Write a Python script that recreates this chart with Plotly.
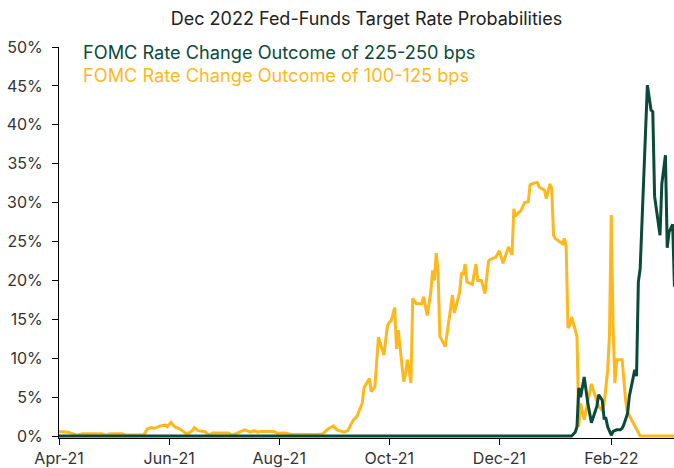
import plotly.graph_objects as go

# ---- data ----
orange_dates = [
    "2021-04-01", "2021-04-06", "2021-04-11", "2021-04-14", "2021-04-25", "2021-04-27", "2021-04-29",
    "2021-05-06", "2021-05-08", "2021-05-18", "2021-05-20", "2021-05-22", "2021-05-24", "2021-05-27",
    "2021-05-30", "2021-05-31", "2021-06-02", "2021-06-04", "2021-06-07", "2021-06-11", "2021-06-14",
    "2021-06-15", "2021-06-17", "2021-06-21", "2021-06-23", "2021-06-25", "2021-07-04", "2021-07-06",
    "2021-07-09", "2021-07-13", "2021-07-16", "2021-07-18", "2021-07-20", "2021-07-22", "2021-07-29",
    "2021-07-31", "2021-08-04", "2021-08-08", "2021-08-22", "2021-08-25", "2021-08-28", "2021-08-31",
    "2021-09-02", "2021-09-05", "2021-09-06", "2021-09-08", "2021-09-09", "2021-09-11", "2021-09-13",
    "2021-09-14", "2021-09-16", "2021-09-17", "2021-09-20", "2021-09-21", "2021-09-23", "2021-09-25",
    "2021-09-28", "2021-09-30", "2021-10-01", "2021-10-02", "2021-10-04", "2021-10-05", "2021-10-06",
    "2021-10-07", "2021-10-09", "2021-10-10", "2021-10-11", "2021-10-13", "2021-10-14", "2021-10-16",
    "2021-10-19", "2021-10-20", "2021-10-22", "2021-10-24", "2021-10-25", "2021-10-26", "2021-10-27",
    "2021-10-28", "2021-10-29", "2021-11-01", "2021-11-03", "2021-11-05", "2021-11-06", "2021-11-09",
    "2021-11-10", "2021-11-11", "2021-11-12", "2021-11-13", "2021-11-16", "2021-11-18", "2021-11-19",
    "2021-11-21", "2021-11-23", "2021-11-24", "2021-11-25", "2021-11-26", "2021-11-29", "2021-12-01",
    "2021-12-03", "2021-12-06", "2021-12-08", "2021-12-09", "2021-12-10", "2021-12-13", "2021-12-15",
    "2021-12-17", "2021-12-18", "2021-12-20", "2021-12-22", "2021-12-23", "2021-12-26", "2021-12-27",
    "2021-12-29", "2021-12-30", "2021-12-31", "2022-01-01", "2022-01-04", "2022-01-05", "2022-01-06",
    "2022-01-07", "2022-01-08", "2022-01-09", "2022-01-10", "2022-01-12", "2022-01-13", "2022-01-14",
    "2022-01-15", "2022-01-17", "2022-01-21", "2022-01-25", "2022-01-27", "2022-01-28", "2022-01-30",
    "2022-01-31", "2022-02-01", "2022-02-02", "2022-02-03", "2022-02-04", "2022-02-07", "2022-02-09",
    "2022-02-10", "2022-02-12", "2022-02-14", "2022-02-17", "2022-03-08",
]
orange_values = [
    0.6, 0.5, 0.1, 0.3, 0.3, 0.1, 0.3,
    0.3, 0.15, 0.15, 0.9, 1.1, 1.0, 1.3,
    1.4, 1.2, 1.75, 1.2, 0.9, 0.25, 0.7,
    1.1, 0.7, 0.55, 0.1, 0.4, 0.4, 0.1,
    0.4, 0.8, 0.5, 0.7, 0.5, 0.6, 0.6,
    0.35, 0.4, 0.2, 0.2, 0.25, 0.9, 1.3,
    0.8, 0.6, 0.5, 0.7, 1.2, 2.05, 2.5,
    3.0, 4.2, 6.2, 7.4, 5.7, 6.3, 12.7,
    10.4, 14.2, 14.6, 14.8, 16.5, 11.2, 13.6,
    11.3, 7.0, 8.0, 9.8, 6.8, 17.7, 17.0,
    17.0, 17.9, 15.5, 18.5, 21.3, 20.0, 23.5,
    21.3, 12.8, 11.5, 14.9, 18.1, 15.8, 18.5,
    21.0, 20.7, 22.1, 19.8, 19.5, 22.1, 20.0,
    20.0, 18.3, 20.6, 22.5, 22.7, 23.0, 23.8,
    22.2, 24.3, 23.3, 29.2, 28.3, 29.0, 30.0,
    30.1, 32.3, 32.5, 32.6, 32.0, 31.6, 30.5,
    32.4, 31.8, 25.8, 25.4, 24.8, 24.7, 25.4,
    24.3, 13.9, 14.2, 15.3, 13.5, 12.8, 1.2,
    4.2, 2.1, 6.7, 3.8, 3.3, 4.0, 8.5,
    13.0, 28.4, 14.0, 6.8, 9.8, 9.8, 4.5,
    3.1, 2.2, 1.3, 0.0, 0.0,
]

green_dates = [
    "2021-04-01", "2022-01-10", "2022-01-12", "2022-01-13", "2022-01-14", "2022-01-15", "2022-01-17",
    "2022-01-19", "2022-01-21", "2022-01-24", "2022-01-25", "2022-01-27", "2022-01-28", "2022-01-29",
    "2022-01-30", "2022-02-01", "2022-02-02", "2022-02-04", "2022-02-06", "2022-02-07", "2022-02-08",
    "2022-02-10", "2022-02-11", "2022-02-13", "2022-02-14", "2022-02-15", "2022-02-16", "2022-02-17",
    "2022-02-21", "2022-02-23", "2022-02-24", "2022-02-25", "2022-02-28", "2022-03-01", "2022-03-03",
    "2022-03-04", "2022-03-05", "2022-03-07", "2022-03-08",
]
green_values = [
    0.0, 0.0, 0.5, 1.2, 6.2, 5.0, 7.6,
    4.2, 1.7, 3.8, 5.3, 4.6, 2.3, 2.3,
    1.2, 0.1, 0.6, 0.8, 0.8, 1.0, 1.5,
    2.9, 5.1, 7.2, 8.5, 7.7, 19.8, 21.5,
    45.1, 41.9, 41.7, 30.8, 25.8, 32.4, 36.1,
    24.2, 26.2, 27.2, 19.2,
]

series_names = [
    "FOMC Rate Change Outcome of 225-250 bps",
    "FOMC Rate Change Outcome of 100-125 bps",
]
title_text = "Dec 2022 Fed-Funds Target Rate Probabilities"

GREEN = "#0a4a39"
ORANGE = "#ffb81c"
FONT = "Inter"

fig = go.Figure()
fig.add_trace(go.Scatter(x=orange_dates, y=orange_values, mode="lines",
                         line=dict(color=ORANGE, width=3), name=series_names[1]))
fig.add_trace(go.Scatter(x=green_dates, y=green_values, mode="lines",
                         line=dict(color=GREEN, width=3), name=series_names[0]))

fig.add_annotation(text=series_names[0], xref="paper", yref="paper", x=0.036, y=0.987,
                   xanchor="left", yanchor="middle", showarrow=False,
                   font=dict(family=FONT, size=18.2, color=GREEN))
fig.add_annotation(text=series_names[1], xref="paper", yref="paper", x=0.036, y=0.928,
                   xanchor="left", yanchor="middle", showarrow=False,
                   font=dict(family=FONT, size=18.2, color=ORANGE))

fig.update_layout(
    width=674, height=468, autosize=False,
    margin=dict(l=59, r=0, t=47, b=30),
    paper_bgcolor="white", plot_bgcolor="white",
    showlegend=False,
    title=dict(text=title_text, x=0.5, xref="paper", y=1 - 19 / 468, yref="container",
               xanchor="center", yanchor="middle",
               font=dict(family=FONT, size=18, color="#222222")),
    font=dict(family=FONT, size=16, color="#333333"),
)
fig.update_xaxes(
    type="date", range=["2021-04-01", "2022-03-07 18:00"],
    tickformat="%b-%y", dtick="M2", tick0="2021-04-01",
    showgrid=False, zeroline=False, showline=True, linecolor="black", linewidth=1,
    ticks="outside", ticklen=6, tickcolor="black", layer="below traces",
    tickfont=dict(family=FONT, size=16, color="#333333"),
)
fig.update_yaxes(
    range=[-0.25, 50], dtick=5, tick0=0, ticksuffix="%",
    showgrid=False, zeroline=False, showline=True, linecolor="black", linewidth=1,
    ticks="outside", ticklen=6, tickcolor="black", ticklabelstandoff=6,
    tickfont=dict(family=FONT, size=16, color="#333333"),
)

fig.write_html("out.html", config={"displayModeBar": False},
               post_script="document.body.style.margin='0';")
